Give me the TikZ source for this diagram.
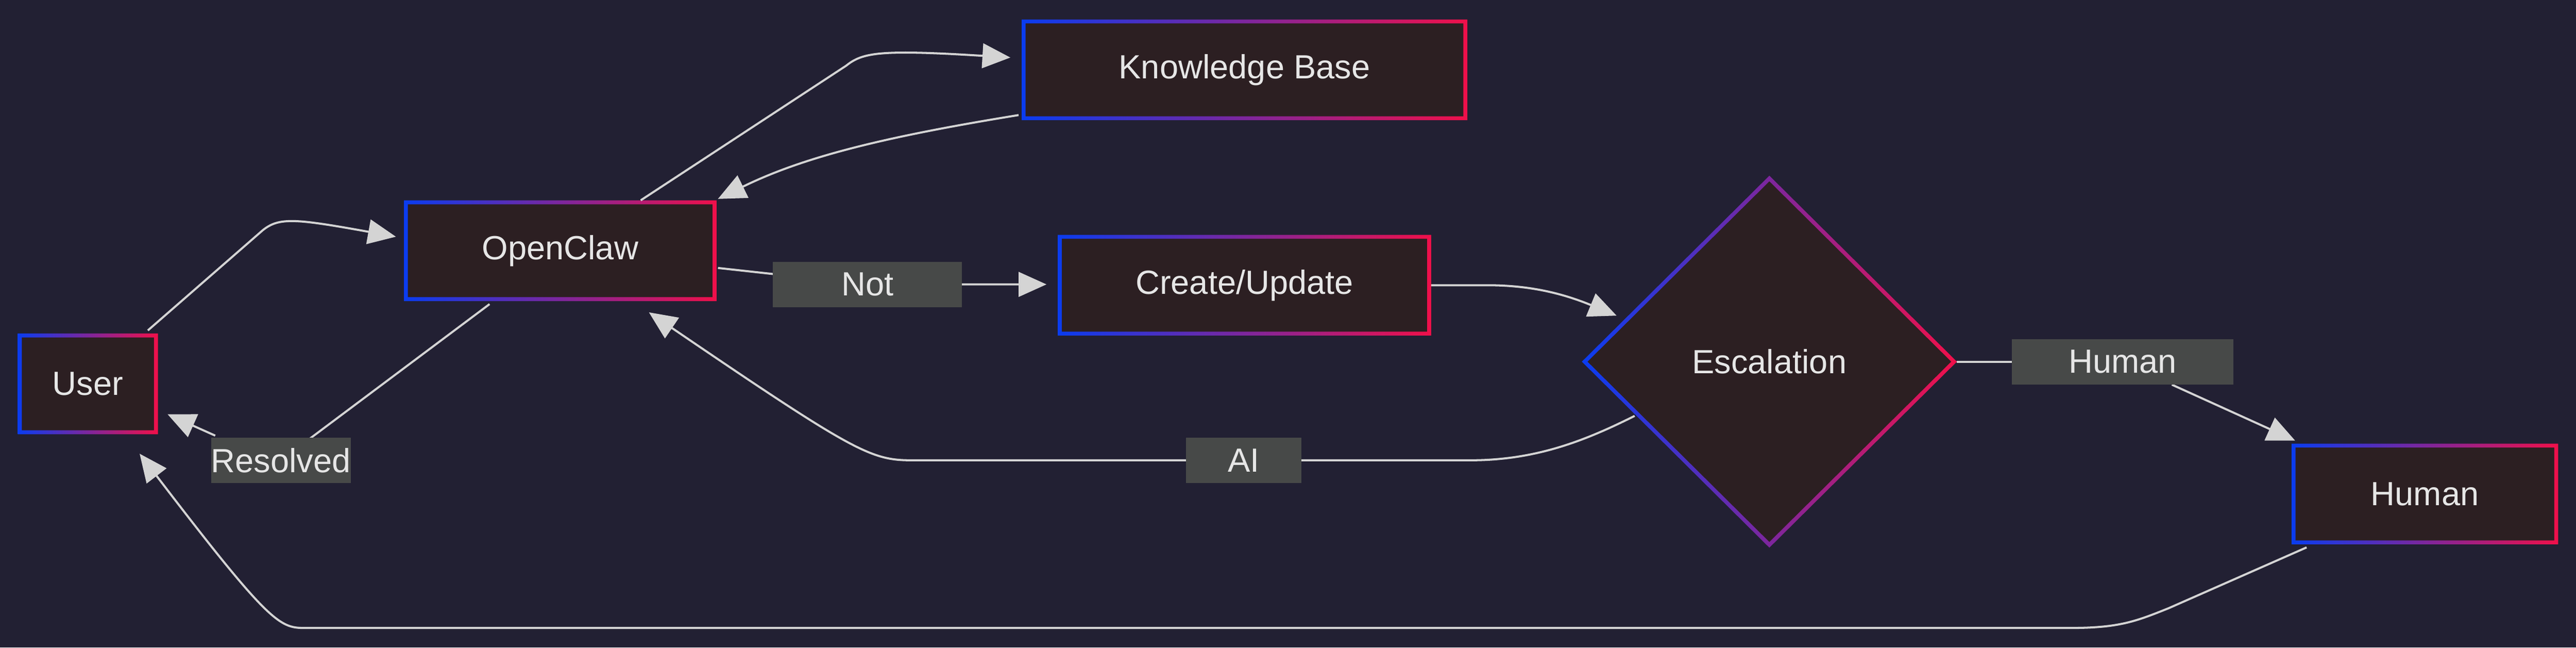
\documentclass[tikz,border=0pt]{standalone}
\usepackage{fontspec}
\setmainfont{Liberation Sans}
\usetikzlibrary{shapes.geometric,arrows.meta,calc}
\definecolor{bgcol}{HTML}{222033}
\definecolor{boxcol}{HTML}{2C1F22}
\definecolor{edgecol}{HTML}{D4D4D4}
\definecolor{lblcol}{HTML}{474948}
\definecolor{txtcol}{HTML}{E6E6E6}
\definecolor{leftcol}{HTML}{0A3CF0}
\definecolor{rightcol}{HTML}{F0104A}
\tikzset{
  box/.style={rectangle, fill=boxcol, text=txtcol, inner sep=0pt, font=\fontsize{29}{34}\selectfont},
  lbl/.style={rectangle, fill=lblcol, text=txtcol, inner sep=0pt, minimum height=1.38cm, font=\fontsize{29}{34}\selectfont},
  link/.style={draw=edgecol, line width=1.8pt, -{Triangle[length=0.85cm,width=0.75cm]}},
  plain/.style={draw=edgecol, line width=1.8pt}
}
\newcommand{\gframe}[1]{%
  \shade[left color=leftcol, right color=rightcol, even odd rule]
    (#1.south west) rectangle (#1.north east)
    ($(#1.south west)+(0.12cm,0.12cm)$) rectangle ($(#1.north east)-(0.12cm,0.12cm)$);}
\begin{document}
\begin{tikzpicture}[x=0.05cm, y=-0.05cm]
  \fill[bgcol] (0,0) rectangle (1568,394);
  \useasboundingbox (0,0) rectangle (1568,394);
  % nodes
  \node[box, minimum width=4.25cm, minimum height=3.05cm] (user) at (53.5,233.5) {User};
  \node[box, minimum width=9.5cm, minimum height=3.05cm] (oc) at (341,152.5) {OpenClaw};
  \node[box, minimum width=13.55cm, minimum height=3.05cm] (kb) at (757.5,42.5) {Knowledge Base};
  \node[box, minimum width=11.35cm, minimum height=3.05cm] (cu) at (757.5,173.5) {Create/Update};
  \node[box, minimum width=8.1cm, minimum height=3.05cm] (hu) at (1476,300.5) {Human};
  \node[box, diamond, aspect=1, minimum width=11.4cm, minimum height=11.3cm] (esc) at (1077,220) {Escalation};
  \foreach \n in {user,oc,kb,cu,hu} {\gframe{\n}}
  \shade[left color=leftcol, right color=rightcol, even odd rule]
    (esc.west) -- (esc.north) -- (esc.east) -- (esc.south) -- cycle
    ($(esc.west)+(0.17cm,0)$) -- ($(esc.north)-(0,0.17cm)$) -- ($(esc.east)-(0.17cm,0)$) -- ($(esc.south)+(0,0.17cm)$) -- cycle;
  % connectors
  \coordinate (ai) at (757,280);
  \coordinate (rs) at (171,280);
  \coordinate (nt) at (528,173);
  \coordinate (hl) at (1292,220);
  \draw[link] (90,201) -- (160,140) .. controls (170,132) and (180,133) .. (241,144);
  \draw[link] (oc.north) ++(49,0) -- (515,40) .. controls (525,32) and (535,30) .. (615,35);
  \draw[link] (620,70) .. controls (540,83) and (490,95) .. (437,121);
  \draw[link] (437,163) -- (nt) -- (637,173);
  \draw[link] (cu.east) -- (905,173.5) .. controls (930,173.5) and (950,178) .. (984,192);
  \draw[link] (995,253) .. controls (965,268) and (935,280) .. (895,280) -- (ai) -- (555,280)
    .. controls (530,280) and (520,275) .. (395,190);
  \draw[plain] (esc.east) -- (hl);
  \draw[link] (hl) ++(30,14) -- (1397,268);
  \draw[link] (1404,333) -- (1320,370) .. controls (1300,378) and (1290,382) .. (1260,382)
    -- (185,382) .. controls (170,382) and (163,378) .. (85,276);
  \draw[plain] (298,185) -- (rs);
  \draw[link] (131,265) -- (102,252);
  % labels
  \node[lbl, minimum width=5.75cm] (not) at (nt) {Not};
  \node[lbl, minimum width=4cm] (res) at (rs) {Resolved};
  \node[lbl, minimum width=3.5cm] (ail) at (ai) {AI};
  \node[lbl, minimum width=6.75cm] (hum) at (hl) {Human};
\end{tikzpicture}
\end{document}
